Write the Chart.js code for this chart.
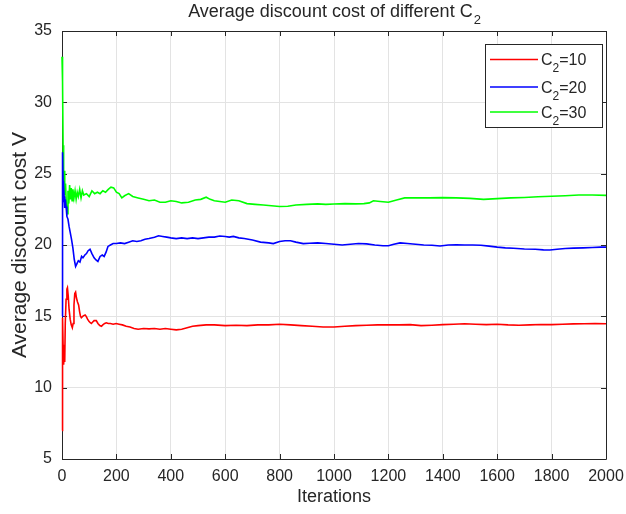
<!DOCTYPE html>
<html>
<head>
<meta charset="utf-8">
<script src="https://cdn.jsdelivr.net/npm/chart.js@4/dist/chart.umd.min.js"></script>
<style>
html,body{margin:0;padding:0;background:#fff;}
#wrap{width:626px;height:514px;position:relative;}
</style>
</head>
<body>
<div id="wrap"><canvas id="c" width="626" height="514"></canvas></div>
<script>
// ---- data ----
const chartTitle = "Average discount cost of different C";
const chartTitleSub = "2";
const xLabel = "Iterations";
const yLabel = "Average discount cost V";
const seriesNames = ["=10", "=20", "=30"]; // shown as C₂=10 etc.
const xTicks = [0,200,400,600,800,1000,1200,1400,1600,1800,2000];
const yTicks = [5,10,15,20,25,30,35];

const itersC10 = [0,1,2,3,4,6,8,10,12,15,18,20,23,26,30,34,38,41,44,47,50,53,57,61,65,68,71,76,80,85,89,94,99,104,108,113,118,126,132,139,145,150,157,163,170,178,188,199,210,222,236,250,265,280,300,320,340,360,380,400,420,440,460,480,500,530,560,600,640,680,720,760,800,840,880,920,960,1000,1040,1080,1120,1160,1200,1240,1280,1320,1360,1400,1440,1480,1520,1560,1600,1640,1680,1720,1760,1800,1840,1880,1920,1960,2000];
const valsC10 = [7.0,9.5,12.8,14.9,13.0,11.6,12.5,11.8,14.5,16.2,16.9,17.0,16.4,15.5,14.8,14.4,14.2,14.5,15.8,16.6,16.7,16.3,16.0,15.8,15.3,15.0,14.9,15.0,15.05,15.1,15.0,14.8,14.65,14.55,14.5,14.6,14.7,14.7,14.5,14.35,14.3,14.4,14.5,14.55,14.5,14.5,14.45,14.5,14.45,14.4,14.3,14.25,14.15,14.1,14.15,14.12,14.15,14.1,14.15,14.1,14.05,14.1,14.2,14.3,14.35,14.4,14.4,14.35,14.38,14.35,14.4,14.4,14.45,14.4,14.35,14.3,14.25,14.25,14.3,14.35,14.38,14.4,14.4,14.4,14.42,14.35,14.38,14.42,14.45,14.48,14.45,14.42,14.45,14.4,14.38,14.4,14.43,14.42,14.45,14.47,14.48,14.5,14.48];

const itersC20 = [0,1,2,3,4,5,6,8,10,12,15,18,22,26,30,35,40,45,50,55,60,66,72,77,84,90,96,103,110,118,125,132,140,148,155,162,169,178,188,200,215,230,245,260,275,290,305,320,340,355,370,385,400,420,440,460,480,500,520,540,560,580,600,615,630,650,670,700,730,760,777,800,820,840,860,887,910,940,970,1000,1030,1060,1090,1120,1150,1180,1200,1220,1243,1270,1300,1330,1360,1390,1420,1450,1480,1510,1540,1570,1600,1630,1660,1700,1740,1770,1794,1820,1850,1880,1916,1950,1980,2000];
const valsC20 = [15.0,18.0,21.5,26.5,24.5,23.0,24.2,23.4,22.6,23.2,22.7,22.0,21.8,21.3,20.9,20.4,19.8,19.0,18.5,18.7,18.9,18.8,19.2,19.1,19.3,19.4,19.6,19.7,19.4,19.1,18.95,18.85,19.2,19.3,19.2,19.5,19.9,20.0,20.1,20.1,20.15,20.1,20.2,20.3,20.25,20.3,20.4,20.45,20.55,20.65,20.6,20.55,20.5,20.45,20.5,20.45,20.5,20.45,20.5,20.55,20.55,20.63,20.6,20.55,20.6,20.5,20.45,20.35,20.2,20.15,20.1,20.25,20.3,20.3,20.2,20.1,20.12,20.15,20.1,20.05,20.0,20.05,20.1,20.08,20.0,19.95,19.95,20.05,20.15,20.1,20.05,20.0,19.98,19.93,20.0,20.02,20.0,20.0,19.98,19.92,19.85,19.8,19.77,19.72,19.7,19.66,19.65,19.7,19.75,19.78,19.8,19.82,19.85,19.85];

const itersC30 = [0,2,4,6,8,10,13,16,19,22,25,28,31,34,37,40,44,48,52,56,60,65,70,75,80,90,100,110,120,130,140,150,160,170,180,190,200,210,220,230,245,260,280,300,320,340,360,380,400,420,440,465,490,510,530,545,560,580,600,624,650,680,710,740,770,800,830,860,900,940,970,1000,1040,1080,1110,1130,1145,1170,1200,1230,1260,1300,1350,1400,1450,1500,1550,1600,1650,1700,1750,1800,1850,1900,1950,2000];
const valsC30 = [33.2,31.5,27.0,24.5,25.2,23.5,24.3,22.8,22.2,23.8,22.9,24.2,23.2,24.0,23.1,23.9,23.3,23.8,23.2,23.7,23.4,23.9,23.3,23.8,23.5,23.6,23.4,23.8,23.6,23.7,23.6,23.8,23.7,23.9,24.05,24.0,23.7,23.6,23.3,23.45,23.6,23.4,23.3,23.2,23.1,23.15,23.0,23.0,23.1,23.05,22.95,23.0,23.15,23.2,23.35,23.2,23.1,23.05,23.0,23.15,23.1,22.9,22.85,22.8,22.75,22.7,22.72,22.8,22.85,22.88,22.85,22.87,22.9,22.88,22.9,22.95,23.1,23.05,23.0,23.15,23.3,23.3,23.3,23.32,23.3,23.27,23.2,23.25,23.3,23.33,23.38,23.42,23.45,23.5,23.5,23.48];

const seriesColors = ["#ff0000", "#0000ff", "#00ff00"];

// ---- build ----
const FONT = "'Liberation Sans', Arial, Helvetica, sans-serif";
const TXT = "#262626";
function pts(xs, ys){ return xs.map((x,i)=>({x:x, y:ys[i]})); }

const frameAndTicks = {
  id: 'frameAndTicks',
  beforeDatasetsDraw(chart){
    const {ctx, chartArea:a, scales:{x, y}} = chart;
    ctx.save();
    ctx.strokeStyle = TXT;
    ctx.lineWidth = 1;
    ctx.beginPath();
    ctx.rect(Math.round(a.left)+0.5, Math.round(a.top)+0.5, Math.round(a.right-a.left), Math.round(a.bottom-a.top));
    ctx.stroke();
    const L = 5;
    ctx.beginPath();
    xTicks.forEach(v=>{
      const px = Math.round(x.getPixelForValue(v))+0.5;
      ctx.moveTo(px, a.bottom); ctx.lineTo(px, a.bottom-L);
      ctx.moveTo(px, a.top); ctx.lineTo(px, a.top+L);
    });
    yTicks.forEach(v=>{
      const py = Math.round(y.getPixelForValue(v))+0.5;
      ctx.moveTo(a.left, py); ctx.lineTo(a.left+L, py);
      ctx.moveTo(a.right, py); ctx.lineTo(a.right-L, py);
    });
    ctx.stroke();
    ctx.restore();
  }
};

const titleAndLegend = {
  id: 'titleAndLegend',
  afterDraw(chart){
    const {ctx, chartArea:a} = chart;
    ctx.save();
    // title with subscript
    ctx.fillStyle = TXT;
    ctx.textBaseline = 'alphabetic';
    ctx.textAlign = 'left';
    ctx.font = "18px " + FONT;
    const wMain = ctx.measureText(chartTitle).width;
    ctx.font = "13px " + FONT;
    const wSub = ctx.measureText(chartTitleSub).width;
    const cx = (a.left + a.right)/2;
    let sx = cx - (wMain + wSub)/2;
    ctx.font = "18px " + FONT;
    ctx.fillText(chartTitle, sx, 17);
    ctx.font = "13px " + FONT;
    ctx.fillText(chartTitleSub, sx + wMain + 1, 23.5);

    // legend box
    const bw = 117, bh = 83;
    const bx = Math.round(a.right - 121), by = Math.round(a.top + 13);
    ctx.fillStyle = '#ffffff';
    ctx.fillRect(bx, by, bw, bh);
    ctx.strokeStyle = TXT;
    ctx.lineWidth = 1;
    ctx.strokeRect(bx+0.5, by+0.5, bw, bh);
    const rows = [15.5, 43, 68];
    chart.data.datasets.forEach((ds, i)=>{
      const ry = by + rows[i];
      ctx.strokeStyle = ds.borderColor;
      ctx.lineWidth = 1.6;
      ctx.beginPath();
      ctx.moveTo(bx+5, ry); ctx.lineTo(bx+53, ry);
      ctx.stroke();
      ctx.fillStyle = TXT;
      let tx = bx + 56;
      ctx.font = "16px " + FONT;
      ctx.fillText("C", tx, ry + 5.7);
      tx += ctx.measureText("C").width;
      ctx.font = "12px " + FONT;
      ctx.fillText("2", tx, ry + 12.5);
      tx += ctx.measureText("2").width;
      ctx.font = "16px " + FONT;
      ctx.fillText(seriesNames[i], tx, ry + 5.7);
    });
    ctx.restore();
  }
};

new Chart(document.getElementById('c'), {
  type: 'line',
  data: {
    datasets: [
      {label: 'C2=10', data: pts(itersC10, valsC10), borderColor: seriesColors[0]},
      {label: 'C2=20', data: pts(itersC20, valsC20), borderColor: seriesColors[1]},
      {label: 'C2=30', data: pts(itersC30, valsC30), borderColor: seriesColors[2]}
    ].map(d=>Object.assign(d, {borderWidth:1.6, pointRadius:0, tension:0, fill:false, clip: 3}))
  },
  options: {
    responsive: false,
    animation: false,
    devicePixelRatio: 1,
    layout: {padding: {top: 31, right: 20, left: 0, bottom: 0}},
    plugins: {legend: {display: false}, title: {display: false}, tooltip: {enabled: false}},
    scales: {
      x: {
        type: 'linear', min: 0, max: 2000,
        afterBuildTicks(s){ s.ticks = xTicks.map(v=>({value:v})); },
        afterFit(s){ s.height = 55; s.paddingLeft = 0; s.paddingRight = 0; },
        grid: {color: '#e3e3e3', drawTicks: false},
        border: {display: false},
        ticks: {color: TXT, font: {family: FONT, size: 16}, padding: 8, maxRotation: 0, autoSkip: false,
                callback: v => String(v)},
        title: {display: true, text: xLabel, color: TXT, font: {family: FONT, size: 18}, padding: {top: 0, bottom: 6}}
      },
      y: {
        type: 'linear', min: 5, max: 35,
        afterBuildTicks(s){ s.ticks = yTicks.map(v=>({value:v})); },
        afterFit(s){ s.width = 62; s.paddingTop = 0; s.paddingBottom = 0; },
        grid: {color: '#e3e3e3', drawTicks: false},
        border: {display: false},
        ticks: {color: TXT, font: {family: FONT, size: 16}, padding: 10, callback: v => String(v)},
        title: {display: true, text: yLabel, color: TXT, font: {family: FONT, size: 21}, padding: {top: 8, bottom: 0}}
      }
    }
  },
  plugins: [frameAndTicks, titleAndLegend]
});
</script>
</body>
</html>
